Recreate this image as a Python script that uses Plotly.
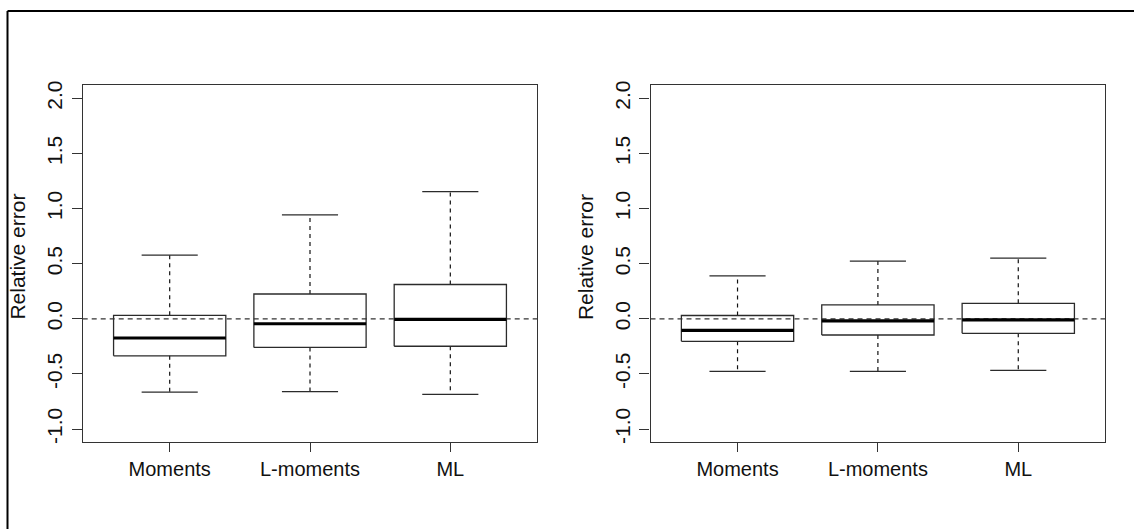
import plotly.graph_objects as go

W, H = 1134, 531

categories = ["Moments", "L-moments", "ML"]

# left panel
left_lower = [-0.665, -0.660, -0.686]
left_q1 = [-0.336, -0.260, -0.249]
left_median = [-0.174, -0.045, -0.005]
left_q3 = [0.032, 0.225, 0.311]
left_upper = [0.578, 0.943, 1.153]

# right panel
right_lower = [-0.476, -0.476, -0.467]
right_q1 = [-0.204, -0.147, -0.132]
right_median = [-0.105, -0.018, -0.009]
right_q3 = [0.030, 0.126, 0.140]
right_upper = [0.389, 0.524, 0.551]

y_ticks = [-1.0, -0.5, 0.0, 0.5, 1.0, 1.5, 2.0]
y_tick_labels = ["-1.0", "-0.5", "0.0", "0.5", "1.0", "1.5", "2.0"]

FONT = "Liberation Sans, Arial, sans-serif"
BOX_COL = "#2b2b2b"

fig = go.Figure()

def add_panel(xa, ya, lower, q1, med, q3, upper):
    half_box = 0.4
    half_cap = 0.2
    for i, cat in enumerate(categories):
        x = i + 1
        # whiskers (dashed)
        fig.add_trace(go.Scatter(
            x=[x, x, None, x, x], y=[q3[i], upper[i], None, q1[i], lower[i]],
            mode="lines", line=dict(color="#111111", width=1.2, dash="4px,4px"),
            xaxis=xa, yaxis=ya, showlegend=False, hoverinfo="skip"))
        # caps
        fig.add_trace(go.Scatter(
            x=[x - half_cap, x + half_cap, None, x - half_cap, x + half_cap],
            y=[upper[i], upper[i], None, lower[i], lower[i]],
            mode="lines", line=dict(color=BOX_COL, width=1.3),
            xaxis=xa, yaxis=ya, showlegend=False, hoverinfo="skip"))
        # box
        fig.add_trace(go.Scatter(
            x=[x - half_box, x + half_box, x + half_box, x - half_box, x - half_box],
            y=[q1[i], q1[i], q3[i], q3[i], q1[i]],
            mode="lines", line=dict(color=BOX_COL, width=1.3),
            xaxis=xa, yaxis=ya, showlegend=False, hoverinfo="skip"))
    # reference line at zero
    fig.add_trace(go.Scatter(
        x=[0.38, 3.62], y=[0, 0], mode="lines",
        line=dict(color="#333333", width=1.2, dash="5px,4px"),
        xaxis=xa, yaxis=ya, showlegend=False, hoverinfo="skip"))
    # medians
    for i in range(len(categories)):
        x = i + 1
        fig.add_trace(go.Scatter(
            x=[x - half_box, x + half_box], y=[med[i], med[i]],
            mode="lines", line=dict(color="#000000", width=3.2),
            xaxis=xa, yaxis=ya, showlegend=False, hoverinfo="skip"))

add_panel("x", "y", left_lower, left_q1, left_median, left_q3, left_upper)
add_panel("x2", "y2", right_lower, right_q1, right_median, right_q3, right_upper)

ydom = [1 - 443.3 / H, 1 - 82 / H]
axis_common = dict(showline=True, mirror=True, linecolor="#333333", linewidth=1.2,
                   showgrid=False, zeroline=False, ticks="outside",
                   tickcolor="#333333", tickwidth=1)

xcommon = dict(axis_common, range=[0.38, 3.62], tickvals=[1, 2, 3], ticktext=categories,
               ticklen=9, ticklabelstandoff=0,
               tickfont=dict(family=FONT, size=20, color="#111111"))
ycommon = dict(axis_common, range=[-1.12, 2.12], tickvals=y_ticks, ticktext=y_tick_labels,
               ticklen=10, tickangle=-90, ticklabelstandoff=1,
               tickfont=dict(family=FONT, size=21, color="#111111"))

fig.update_layout(
    width=W, height=H,
    margin=dict(l=0, r=0, t=0, b=0),
    paper_bgcolor="white", plot_bgcolor="white",
    xaxis=dict(xcommon, domain=[82.7 / W, 537.3 / W], anchor="y"),
    yaxis=dict(ycommon, domain=ydom, anchor="x"),
    xaxis2=dict(xcommon, domain=[650.5 / W, 1105.3 / W], anchor="y2"),
    yaxis2=dict(ycommon, domain=ydom, anchor="x2"),
    font=dict(family=FONT, color="#111111"),
)

# y-axis titles
for xpx in [17.5, 585]:
    fig.add_annotation(
        x=xpx / W, y=1 - 256 / H, xref="paper", yref="paper",
        text="Relative error", textangle=-90, showarrow=False,
        font=dict(family=FONT, size=21, color="#111111"),
        xanchor="center", yanchor="middle")

# outer frame (top and left edges visible)
fig.add_shape(type="line", xref="paper", yref="paper",
              x0=7.5 / W, y0=0, x1=7.5 / W, y1=1 - 7 / H,
              line=dict(color="#000000", width=2))
fig.add_shape(type="line", xref="paper", yref="paper",
              x0=7.5 / W, y0=1 - 7 / H, x1=1, y1=1 - 7 / H,
              line=dict(color="#000000", width=2))

fig.write_html("out.html")
